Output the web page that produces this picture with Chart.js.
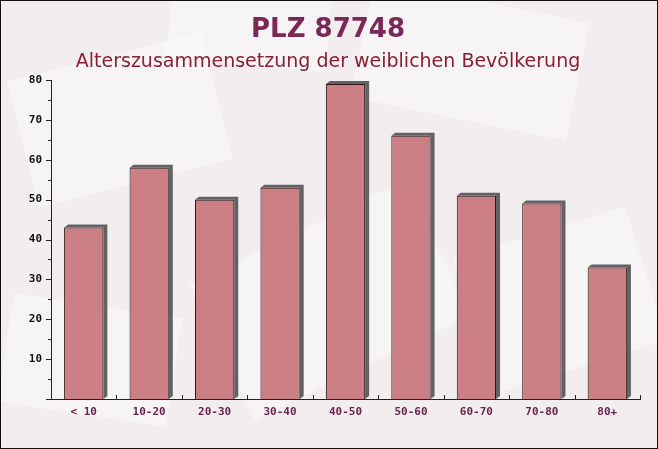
<!DOCTYPE html>
<html>
<head>
<meta charset="utf-8">
<script src="https://cdn.jsdelivr.net/npm/chart.js@4/dist/chart.umd.min.js"></script>
<style>
  html, body { margin: 0; padding: 0; background: #f3eff1; }
  #wrap { width: 658px; height: 449px; position: relative; }
</style>
</head>
<body>
<div id="wrap"><canvas id="ageChart" width="658" height="449"></canvas></div>
<script>
// -------------------- Data --------------------
const titleText = "PLZ 87748";
const subtitleText = "Alterszusammensetzung der weiblichen Bevölkerung";
const ageGroups = ["< 10", "10-20", "20-30", "30-40", "40-50", "50-60", "60-70", "70-80", "80+"];
const femaleCounts = [43, 58, 50, 53, 79, 66, 51, 49, 33];
const yTicks = [0, 10, 20, 30, 40, 50, 60, 70, 80];

// -------------------- Background + frame --------------------
const backdrop = {
  id: "backdrop",
  beforeDraw(chart) {
    const c = chart.ctx;
    c.save();
    c.fillStyle = "#f2eef0";
    c.fillRect(0, 0, chart.width, chart.height);
    // faint envelope shapes
    const shapes = [
      [120, 120, 200, 130, -0.25], [470, 60, 220, 120, 0.2], [330, 300, 240, 150, -0.45],
      [90, 360, 170, 110, 0.15], [560, 300, 180, 140, -0.3], [250, 20, 160, 90, 0.1]
    ];
    c.fillStyle = "rgba(255,255,255,0.35)";
    shapes.forEach(([x, y, w, h, r]) => {
      c.save();
      c.translate(x, y);
      c.rotate(r);
      c.fillRect(-w / 2, -h / 2, w, h);
      c.restore();
    });
    c.restore();
  },
  afterDraw(chart) {
    const c = chart.ctx;
    c.save();
    c.strokeStyle = "#111";
    c.lineWidth = 1;
    c.strokeRect(0.5, 0.5, chart.width - 1, chart.height - 1);
    // titles
    c.textAlign = "center";
    c.textBaseline = "middle";
    c.fillStyle = "#7a2858";
    c.font = "bold 26px 'DejaVu Sans'";
    c.fillText(titleText, chart.width / 2 - 1, 30);
    c.fillStyle = "#8a1f33";
    c.font = "19px 'DejaVu Sans'";
    c.fillText(subtitleText, chart.width / 2 - 1, 62);
    c.restore();
  }
};

// -------------------- 3D bar sides + axis ticks --------------------
const barSides = {
  id: "barSides",
  beforeDatasetsDraw(chart) {
    const c = chart.ctx;
    const dx = 4, dy = 3;
    c.save();
    c.fillStyle = "#626262";
    chart.getDatasetMeta(0).data.forEach(bar => {
      const half = bar.width / 2;
      const l = bar.x - half, r = bar.x + half, t = bar.y, b = bar.base;
      c.beginPath();
      c.moveTo(l, t);
      c.lineTo(l + dx, t - dy);
      c.lineTo(r + dx, t - dy);
      c.lineTo(r + dx, b - dy);
      c.lineTo(r, b);
      c.lineTo(r, t);
      c.closePath();
      c.fill();
    });
    c.restore();
  },
  afterDraw(chart) {
    const c = chart.ctx;
    const ys = chart.scales.y, xs = chart.scales.x;
    const area = chart.chartArea;
    c.save();
    c.strokeStyle = "#222";
    c.lineWidth = 1;
    c.beginPath();
    for (let v = 0; v <= 80; v += 5) {
      const py = Math.round(ys.getPixelForValue(v)) + 0.5;
      const len = v % 10 === 0 ? 5 : 3;
      c.moveTo(area.left - len, py);
      c.lineTo(area.left, py);
    }
    for (let i = 0; i < ageGroups.length; i++) {
      const px = Math.round(xs.getPixelForValue(i) + (xs.getPixelForValue(1) - xs.getPixelForValue(0)) / 2) + 0.5;
      c.moveTo(px, area.bottom);
      c.lineTo(px, area.bottom - 4);
    }
    c.stroke();
    c.restore();
  }
};

// -------------------- Chart --------------------
const ctx = document.getElementById("ageChart").getContext("2d");
const chart = new Chart(ctx, {
  type: "bar",
  data: {
    labels: ageGroups,
    datasets: [{
      data: femaleCounts,
      backgroundColor: "rgba(196,106,112,0.85)",
      borderColor: "#2a1616",
      borderWidth: 1,
      borderSkipped: "bottom",
      barPercentage: 0.6,
      categoryPercentage: 1.0
    }]
  },
  options: {
    responsive: false,
    animation: false,
    layout: { padding: { top: 80, left: 0, right: 18, bottom: 0 } },
    plugins: { legend: { display: false }, tooltip: { enabled: false }, title: { display: false } },
    scales: {
      x: {
        grid: { display: false, drawTicks: false },
        border: { color: "#222", width: 1 },
        ticks: {
          color: "#6b2448",
          padding: 7,
          font: { family: "'DejaVu Sans Mono'", size: 11, weight: "bold" }
        },
        afterFit: s => { s.height = 50; }
      },
      y: {
        min: 0,
        max: 80,
        afterBuildTicks: s => { s.ticks = yTicks.map(v => ({ value: v })); },
        grid: { display: false, drawTicks: false },
        border: { color: "#222", width: 1 },
        ticks: {
          color: "#111",
          padding: 9,
          font: { family: "'DejaVu Sans Mono'", size: 11, weight: "bold" },
          callback: v => (v === 0 ? "" : v)
        },
        afterFit: s => { s.width = 51; }
      }
    }
  },
  plugins: [backdrop, barSides]
});
</script>
</body>
</html>
